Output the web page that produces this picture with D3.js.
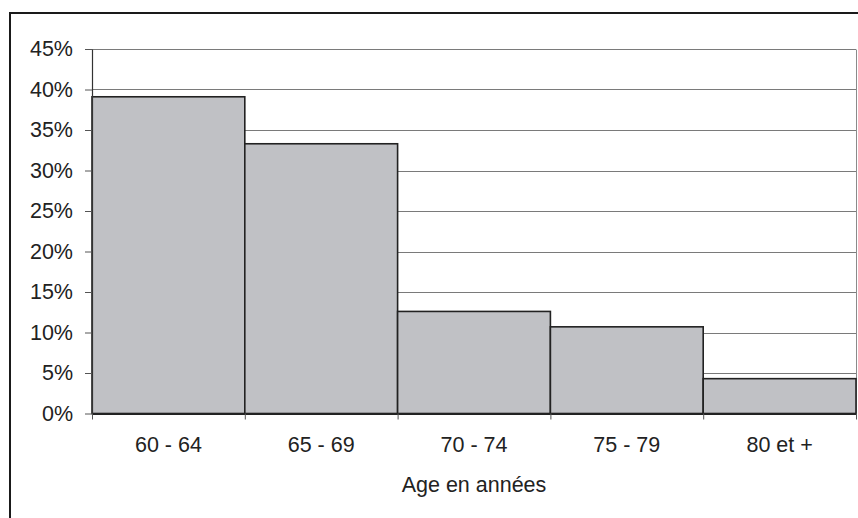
<!DOCTYPE html>
<html>
<head>
<meta charset="utf-8">
<script src="https://cdn.jsdelivr.net/npm/d3@7"></script>
<style>
  body { margin: 0; background: #fff; }
  text { font-family: "Liberation Sans", Arial, sans-serif; fill: #222; }
</style>
</head>
<body>
<div id="chart"></div>
<script>
// Data
var ageGroups = ["60 - 64", "65 - 69", "70 - 74", "75 - 79", "80 et +"];
var shares = [0.391, 0.333, 0.126, 0.107, 0.043];
var yTicks = [0, 0.05, 0.10, 0.15, 0.20, 0.25, 0.30, 0.35, 0.40, 0.45];
var xTitle = "Age en années";

var W = 858, H = 518;
var margin = { top: 49, right: 2, bottom: 104.5, left: 92 },
    width = W - margin.left - margin.right,
    height = H - margin.top - margin.bottom;
var fontSize = "21.5px";

var svg = d3.select("#chart")
  .append("svg")
    .attr("width", W)
    .attr("height", H);

// Outer frame (runs off the right and bottom edges)
svg.append("rect")
  .attr("x", 10).attr("y", 13)
  .attr("width", W).attr("height", H)
  .attr("fill", "none")
  .attr("stroke", "#1a1a1a")
  .attr("stroke-width", 2);

var g = svg.append("g")
  .attr("transform", "translate(" + margin.left + "," + margin.top + ")");

var x = d3.scaleBand()
  .domain(ageGroups)
  .range([0, width])
  .padding(0);

var y = d3.scaleLinear()
  .domain([0, 0.45])
  .range([height, 0]);

// Gridlines
g.append("g")
  .selectAll("line")
  .data(yTicks.slice(1))
  .enter().append("line")
    .attr("x1", 0).attr("x2", width)
    .attr("y1", d => Math.round(y(d)) + 0.5)
    .attr("y2", d => Math.round(y(d)) + 0.5)
    .attr("stroke", "#7a7a7a")
    .attr("stroke-width", 1);

// right edge of plot area
g.append("line")
  .attr("x1", width + 0.5).attr("x2", width + 0.5)
  .attr("y1", Math.round(y(0.45)) + 0.5).attr("y2", height)
  .attr("stroke", "#8a8a8a");

// Bars
g.selectAll("rect.bar")
  .data(ageGroups)
  .enter().append("rect")
    .attr("class", "bar")
    .attr("x", d => x(d))
    .attr("y", (d, i) => y(shares[i]))
    .attr("width", x.bandwidth())
    .attr("height", (d, i) => height - y(shares[i]))
    .attr("fill", "#c0c1c5")
    .attr("stroke", "#222")
    .attr("stroke-width", 1.6);

// Y axis
var yAxis = g.append("g")
  .call(d3.axisLeft(y).tickValues(yTicks).tickFormat(d3.format(".0%")).tickSize(7).tickPadding(12).tickSizeOuter(0));
yAxis.select(".domain").attr("stroke", "#333").attr("stroke-width", 1.2);
yAxis.selectAll(".tick line").attr("stroke", "#555");
yAxis.selectAll("text").style("font-size", fontSize).attr("fill", "#222").attr("font-family", null);

// X axis
var xAxis = g.append("g")
  .attr("transform", "translate(0," + height + ")")
  .call(d3.axisBottom(x).tickSize(0).tickPadding(23));
xAxis.select(".domain").attr("stroke", "#222").attr("stroke-width", 2.2);
xAxis.selectAll("text").style("font-size", fontSize).attr("fill", "#222").attr("font-family", null);

// tick marks at the bar boundaries
g.append("g")
  .selectAll("line")
  .data(ageGroups.concat(["end"]))
  .enter().append("line")
    .attr("x1", (d, i) => i * x.step() + 0.5)
    .attr("x2", (d, i) => i * x.step() + 0.5)
    .attr("y1", height).attr("y2", height + 6)
    .attr("stroke", "#555");

// Axis title
g.append("text")
  .attr("x", width / 2)
  .attr("y", height + 78.5)
  .attr("text-anchor", "middle")
  .style("font-size", fontSize)
  .text(xTitle);
</script>
</body>
</html>
